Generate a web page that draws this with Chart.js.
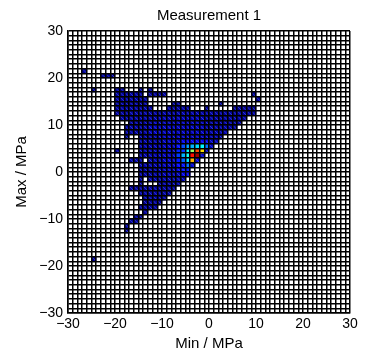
<!DOCTYPE html>
<html><head><meta charset="utf-8">
<script src="https://cdn.jsdelivr.net/npm/chart.js@4.4.1/dist/chart.umd.min.js"></script>
<style>html,body{margin:0;padding:0;background:#fff;}canvas{display:block;}</style>
</head><body>
<canvas id="c" width="372" height="356"></canvas>
<script>
// Axis range and labelled ticks
const axisMin = -30, axisMax = 30;
const labelledTicks = [-30, -20, -10, 0, 10, 20, 30];
const countMax = 100;

// Histogram rows: lower edge of each row (Max / MPa)
const rowY = [21, 20, 17, 16, 15, 14, 13, 12, 11, 10, 9, 8, 7, 6, 5, 4, 3, 2, 1, 0,
  -1, -2, -3, -4, -5, -6, -7, -8, -9, -10, -11, -12, -13, -19];
// Runs of filled cells in each row: [first cell left edge, last cell left edge, count]
const rowSpans = [
  [[-27,-27,2]],
  [[-23,-21,2]],
  [[-25,-25,2],[-20,-19,2],[-15,-15,2],[-13,-13,2]],
  [[-20,-15,3],[-13,-10,2],[9,9,2]],
  [[-20,-14,3],[10,10,2]],
  [[-20,-14,3],[-8,-7,2],[2,2,2]],
  [[-20,-13,3],[-9,-5,3],[-1,-1,2],[5,9,2]],
  [[-20,-11,3],[-10,-1,4],[0,9,3]],
  [[-19,-12,3],[-11,-2,5],[-1,7,3]],
  [[-17,-13,3],[-12,-1,5],[0,6,3]],
  [[-18,-14,3],[-13,-2,6],[-1,5,3]],
  [[-18,-14,3],[-13,-2,6],[-1,3,4]],
  [[-18,-18,2],[-15,-12,3],[-11,-1,6],[0,2,4]],
  [[-15,-11,3],[-10,-7,6],[-6,-1,10],[0,1,5]],
  [[-15,-11,4],[-10,-8,6],[0,0,6]],
  [[-20,-20,2],[-15,-11,4],[-10,-8,6]],
  [[-15,-12,4],[-11,-8,6],[-2,-2,7]],
  [[-17,-15,3],[-13,-11,4],[-10,-8,7],[-3,-3,8]],
  [[-15,-12,4],[-11,-8,6],[-4,-4,8]],
  [[-15,-12,3],[-11,-8,6]],
  [[-15,-12,3],[-11,-7,5],[-6,-5,10]],
  [[-15,-15,2],[-13,-11,3],[-10,-6,4]],
  [[-15,-15,2],[-11,-7,4]],
  [[-17,-14,2],[-13,-8,3]],
  [[-15,-9,3]],
  [[-14,-10,3]],
  [[-14,-11,2]],
  [[-15,-12,2]],
  [[-14,-14,2]],
  [[-16,-15,2]],
  [[-17,-16,2]],
  [[-18,-18,2]],
  [[-18,-18,2]],
  [[-25,-25,2]]
];
// Peak cells near the centre (left edge, lower edge, count)
const hotX =     [-7,-6,-5,-4,-3,-2,-1, -7,-6,-5,-4,-3,-2,-1, -7,-6,-5,-4,-3, -7,-6,-5,-4, -7,-6,-5, -7,-6,-5];
const hotY =     [ 5, 5, 5, 5, 5, 5, 5,  4, 4, 4, 4, 4, 4, 4,  3, 3, 3, 3, 3,  2, 2, 2, 2,  1, 1, 1,  0, 0, 0];
const hotCount = [14,20,28,30,34,37,24, 16,18,38,52,80,66, 6, 18,30,39,86,97, 15,22,35,70, 13,14,24, 10,14,16];

const cells = [];
rowY.forEach((y, i) => {
  rowSpans[i].forEach(([x0, x1, v]) => {
    for (let x = x0; x <= x1; x++) cells.push({x: x + 0.5, y: y + 0.5, v});
  });
});
hotX.forEach((x, i) => cells.push({x: x + 0.5, y: hotY[i] + 0.5, v: hotCount[i]}));

function jet(t) {
  t = Math.max(0, Math.min(1, t));
  const f = v => Math.round(255 * Math.max(0, Math.min(1, v)));
  return `rgb(${f(1.5 - Math.abs(4*t - 3))},${f(1.5 - Math.abs(4*t - 2))},${f(1.5 - Math.abs(4*t - 1))})`;
}
const fmt = v => (v < 0 ? '\u2212' + Math.abs(v) : String(v));
const FONT = '"Liberation Sans", Arial, Helvetica, sans-serif';
Chart.defaults.color = '#000';
Chart.defaults.font.family = FONT;

const diagPlugin = {
  id: 'diag',
  afterDatasetsDraw(chart) {
    const meta = chart.getDatasetMeta(0);
    const xs = chart.scales.x, ys = chart.scales.y;
    const hw = Math.abs(xs.getPixelForValue(0.5) - xs.getPixelForValue(0));
    const hh = Math.abs(ys.getPixelForValue(0.5) - ys.getPixelForValue(0));
    const ctx = chart.ctx;
    ctx.save();
    ctx.lineWidth = 1;
    ctx.strokeStyle = 'rgba(110,130,255,0.45)';
    meta.data.forEach((el, i) => {
      if (cells[i].v >= 15) return;
      ctx.beginPath();
      ctx.moveTo(el.x - hw, el.y - hh);
      ctx.lineTo(el.x + hw, el.y + hh);
      ctx.stroke();
    });
    ctx.restore();
  }
};

const cellRadius = ctx => {
  const s = ctx.chart.scales.x;
  return (Math.abs(s.getPixelForValue(1) - s.getPixelForValue(0)) + 0.6) / Math.SQRT2;
};

const axisCommon = {
  type: 'linear', min: axisMin, max: axisMax,
  grid: { color: '#000', lineWidth: 1.5, drawTicks: false, z: 1 },
  border: { display: true, color: '#000', width: 1.5, z: 1 },
};

new Chart(document.getElementById('c'), {
  type: 'scatter',
  data: { datasets: [{
    data: cells,
    pointStyle: 'rect',
    pointRadius: cellRadius,
    pointHoverRadius: cellRadius,
    borderWidth: 0,
    pointBorderWidth: 0,
    backgroundColor: c => jet(c.raw.v / countMax),
    pointBackgroundColor: c => jet(c.raw.v / countMax),
  }]},
  options: {
    responsive: false, animation: false, events: [],
    layout: { padding: { left: 0, right: 22, top: 0, bottom: 0 } },
    plugins: {
      legend: { display: false }, tooltip: { enabled: false },
      title: { display: true, text: 'Measurement 1', fullSize: false,
        font: { size: 15, weight: 'normal', family: FONT }, padding: { top: 6.5, bottom: 6.5 } }
    },
    scales: {
      x: Object.assign({}, axisCommon, {
        position: 'bottom',
        afterFit: s => { s.height = 43; },
        ticks: { stepSize: 1, autoSkip: false, maxRotation: 0, padding: 3,
          font: { size: 14, family: FONT },
          callback: v => labelledTicks.includes(v) ? fmt(v) : '' },
        title: { display: true, text: 'Min / MPa', font: { size: 15, family: FONT }, padding: { top: 0, bottom: 3 } }
      }),
      y: Object.assign({}, axisCommon, {
        position: 'left',
        afterFit: s => { s.width = 68; },
        ticks: { stepSize: 1, autoSkip: false, padding: 5,
          font: { size: 14, family: FONT },
          callback: v => labelledTicks.includes(v) ? fmt(v) : '' },
        title: { display: true, text: 'Max / MPa', font: { size: 15, family: FONT }, padding: { top: 13, bottom: 0 } }
      })
    }
  },
  plugins: [diagPlugin]
});
</script>
</body></html>
